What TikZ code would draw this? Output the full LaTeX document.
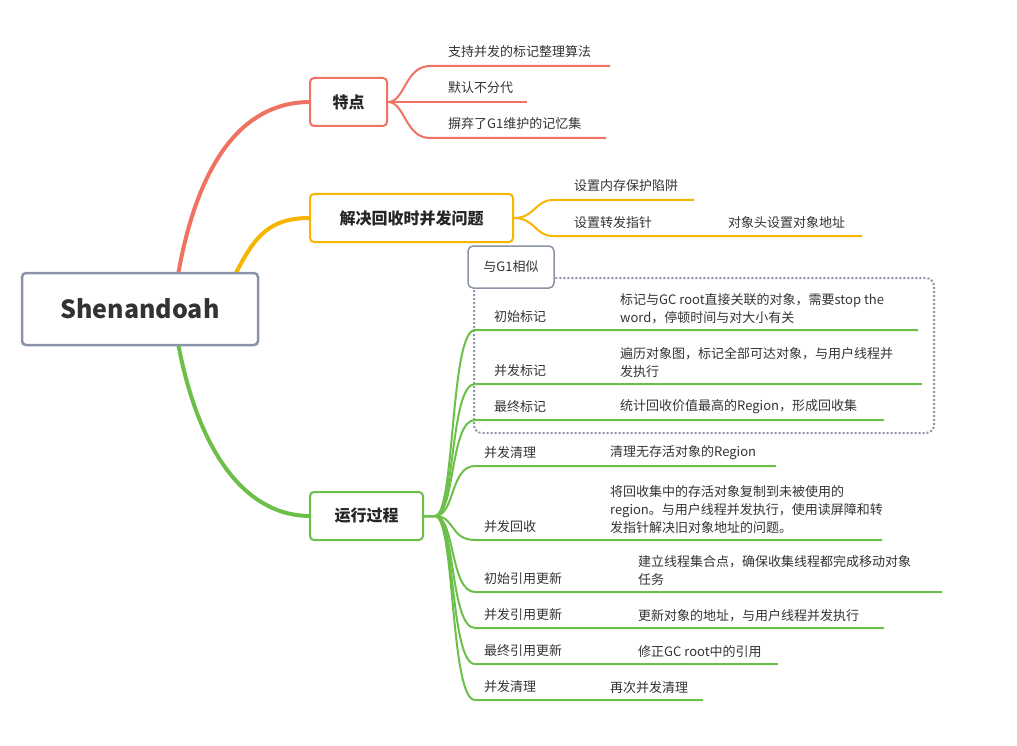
\documentclass[tikz,border=0pt]{standalone}
\usepackage{fontspec}
\setmainfont{Noto Sans CJK SC}
\begin{document}
\begin{tikzpicture}[x=1pt,y=-1pt,
  txt/.style={font=\fontsize{13}{16}\selectfont,text=black!80,inner sep=0pt},
  topbox/.style={draw,line width=2pt,rounded corners=4pt,fill=white,font=\fontsize{16}{18}\selectfont\bfseries,text=black!85,inner sep=0pt},
  ul/.style={line width=2pt}]
\definecolor{cr}{HTML}{F07262}\definecolor{co}{HTML}{F6B600}\definecolor{cg}{HTML}{6CC04A}\definecolor{cgr}{HTML}{8A94A6}
\useasboundingbox (0,0) rectangle (1017,746);
% main branches
\draw[cr,line width=4pt] (178,275) .. controls (200,150) and (250,102) .. (310,102);
\draw[co,line width=4pt] (235,275) .. controls (255,235) and (270,218) .. (310,218);
\draw[cg,line width=4pt] (178,343) .. controls (200,460) and (250,516) .. (310,516);
% root
\node[draw=cgr,line width=2.5pt,rounded corners=4pt,fill=white,minimum width=236pt,minimum height=72pt,font=\fontsize{25}{27}\selectfont\bfseries,text=black!80] (root) at (140,309) {Shenandoah};
% 特点
\node[topbox,draw=cr,minimum width=77pt,minimum height=48pt] (t) at (348.5,102) {特点};
\foreach \y/\e/\s in {66/610/支持并发的标记整理算法,102/527/默认不分代,138/606/摒弃了G1维护的记忆集}{
  \draw[cr,ul] (t.east) .. controls (405,102) and (405,\y) .. (430,\y) -- (\e,\y);
  \node[txt,anchor=base west] at (448,\y-9) {\s};}
% 解决
\node[topbox,draw=co,minimum width=203pt,minimum height=48pt] (j) at (411.5,218) {解决回收时并发问题};
\draw[co,ul] (j.east) .. controls (535,218) and (535,200) .. (553,200) -- (694,200);
\node[txt,anchor=base west] at (574,191) {设置内存保护陷阱};
\draw[co,ul] (j.east) .. controls (535,218) and (535,236) .. (553,236) -- (712,236) -- (862,236);
\node[txt,anchor=base west] at (574,227) {设置转发指针};
\node[txt,anchor=base west] at (728,227) {对象头设置对象地址};
% dotted box
\draw[cgr,line width=2pt,dotted,rounded corners=8pt] (474,278) rectangle (934,433);
\node[draw=cgr,line width=1.5pt,rounded corners=5pt,fill=white,minimum width=86pt,minimum height=42pt,txt] (g) at (511,267) {与G1相似};
% 运行过程
\node[topbox,draw=cg,minimum width=113pt,minimum height=48pt] (r) at (366.5,516) {运行过程};
\foreach \y/\e/\lx/\l in {330/918/494/初始标记,384/922/494/并发标记,420/884/494/最终标记,466/776/484/并发清理,540/882/484/并发回收,592/942/484/初始引用更新,628/884/484/并发引用更新,664/778/484/最终引用更新,700/703/484/并发清理}{
  \draw[cg,ul] (r.east) -- (435,516) .. controls (455,516) and (450,\y) .. (475,\y) -- (\e,\y);
  \node[txt,anchor=base west] at (\lx,\y-9) {\l};}
\foreach \x/\y/\s in {620/330/{标记与GC root直接关联的对象，需要stop the\\word，停顿时间与对大小有关},620/384/{遍历对象图，标记全部可达对象，与用户线程并\\发执行},620/420/{统计回收价值最高的Region，形成回收集},610/466/{清理无存活对象的Region},610/540/{将回收集中的存活对象复制到未被使用的\\region。与用户线程并发执行，使用读屏障和转\\发指针解决旧对象地址的问题。},638/592/{建立线程集合点，确保收集线程都完成移动对象\\任务},638/628/{更新对象的地址，与用户线程并发执行},638/664/{修正GC root中的引用},610/700/{再次并发清理}}{
  \node[txt,anchor=south west,align=left,font=\fontsize{13}{18}\selectfont] at (\x,\y-6) {\s};}
\end{tikzpicture}
\end{document}
